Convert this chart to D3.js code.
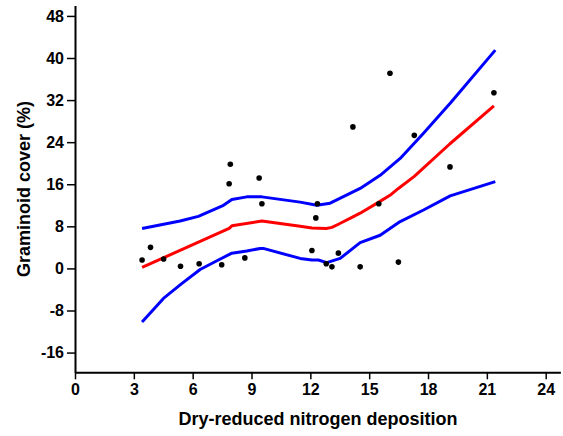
<!DOCTYPE html>
<html><head><meta charset="utf-8">
<script src="https://cdn.jsdelivr.net/npm/d3@7"></script>
<style>
body{margin:0;background:#fff;}
text{font-family:"Liberation Sans",Arial,sans-serif;font-weight:bold;fill:#000;}
</style></head>
<body><svg id="c" width="563" height="436"></svg>
<script>
// Observed points
const pointX = [3.42,3.85,4.52,5.38,6.33,7.48,7.92,7.86,9.39,9.53,8.66,12.36,12.28,12.08,16.06,14.17,17.30,15.49,13.43,12.81,13.10,14.54,16.49,21.36,19.12];
const pointY = [1.6,4.0,1.8,0.4,0.9,0.7,19.8,16.1,17.2,12.3,2.0,12.3,9.6,3.4,37.1,26.9,25.3,12.3,2.9,0.9,0.3,0.3,1.2,33.4,19.3];
// Fitted curve (red)
const fitX = [3.42,7.86,8.0,9.53,11.48,12.08,12.81,13.10,13.43,14.17,14.54,15.49,16.06,16.49,17.30,19.12,21.36];
const fitY = [0.2,7.6,8.1,9.0,8.0,7.7,7.6,7.8,8.4,9.8,10.5,12.6,13.9,15.2,17.5,23.7,30.9];
// Upper confidence band (blue)
const upX = [3.42,5.36,6.29,7.57,8.0,8.76,9.53,11.48,12.33,13.01,14.54,15.56,16.58,17.77,19.13,21.43];
const upY = [7.6,9.0,9.9,12.0,13.1,13.6,13.6,12.6,12.0,12.4,15.2,17.7,20.9,25.7,31.4,41.5];
// Lower confidence band (blue)
const loX = [3.42,4.51,5.44,6.38,7.31,8.0,8.76,9.44,9.6,11.48,12.08,12.41,12.84,13.52,14.54,15.56,16.58,17.77,19.13,21.43];
const loY = [-10.2,-5.7,-2.9,-0.2,1.6,2.9,3.3,3.8,3.8,1.9,1.6,1.6,1.1,1.9,4.9,6.3,8.9,11.1,13.8,16.5];
const xTicks = [0,3,6,9,12,15,18,21,24];
const yTicks = [-16,-8,0,8,16,24,32,40,48];

const svg = d3.select("#c");
const x = d3.scaleLinear().domain([0,24.75]).range([75,560.4]);
const y = d3.scaleLinear().domain([-19.75,50]).range([372.3,5.4]);

const gx = svg.append("g").attr("transform","translate(0,372.3)")
  .call(d3.axisBottom(x).tickValues(xTicks).tickFormat(d3.format("d")).tickSize(7).tickPadding(4).tickSizeOuter(0));
const gy = svg.append("g").attr("transform","translate(75,0)")
  .call(d3.axisLeft(y).tickValues(yTicks).tickFormat(d=>d<0?"-"+Math.abs(d):d).tickSize(8).tickPadding(3).tickSizeOuter(0));
[gx,gy].forEach(g=>{
  g.select(".domain").attr("stroke","#000").attr("stroke-width",2);
  g.selectAll(".tick line").attr("stroke","#000").attr("stroke-width",1.5);
  g.selectAll(".tick text").style("font-size","16px").style("font-weight","bold").style("font-family","'Liberation Sans',Arial,sans-serif");
});

const line = d3.line().x(d=>x(d[0])).y(d=>y(d[1]));
const draw = (xs,ys,col)=>svg.append("path").datum(xs.map((v,i)=>[v,ys[i]]))
  .attr("d",line).attr("fill","none").attr("stroke",col).attr("stroke-width",3).attr("stroke-linejoin","round");
draw(upX,upY,"#0000ff");
draw(loX,loY,"#0000ff");
draw(fitX,fitY,"#ff0000");

svg.append("g").selectAll("circle").data(pointX.map((v,i)=>[v,pointY[i]])).join("circle")
  .attr("cx",d=>x(d[0])).attr("cy",d=>y(d[1])).attr("r",2.8).attr("fill","#000");

svg.append("text").attr("x",318).attr("y",425).attr("text-anchor","middle")
  .style("font-size","18px").text("Dry-reduced nitrogen deposition");
svg.append("text").attr("transform","translate(30,189) rotate(-90)").attr("text-anchor","middle")
  .style("font-size","18px").text("Graminoid cover (%)");
</script></body></html>
